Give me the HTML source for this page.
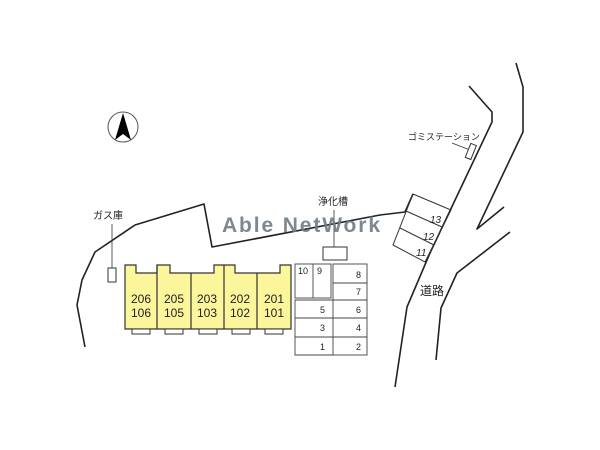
<!DOCTYPE html>
<html><head><meta charset="utf-8"><style>
html,body{margin:0;padding:0;background:#fff;}
svg{display:block;}
text{font-family:"Liberation Sans","Noto Sans CJK JP",sans-serif;}
</style></head><body>
<svg width="600" height="450" viewBox="0 0 600 450" xmlns="http://www.w3.org/2000/svg">
<rect width="600" height="450" fill="#fff"/>
<g fill="none" stroke="#222" stroke-width="1.6" stroke-linejoin="round">
<polyline points="85,347 77,305 82,280 95,252 135,225 204,204 212,247 380,215 405,212 413,194"/>
<polyline points="469,86 492,112 492,122 430,253 407,307 395,387"/>
<polyline points="516,63 523,87 523,132 477,229 504,207"/>
<polyline points="510,232 457,273 441,308 436,360"/>
</g>
<!-- parking 11-13 -->
<g fill="none" stroke="#333" stroke-width="1">
<polygon points="413,194 451,210 425,262 393,245"/>
<line x1="406" y1="211" x2="442" y2="227"/>
<line x1="400" y1="228" x2="434" y2="245"/>
</g>
<g font-size="10" fill="#222" font-style="italic">
<text x="430" y="223">13</text>
<text x="423" y="240">12</text>
<text x="416" y="256">11</text>
</g>
<!-- gomi -->
<text x="408" y="140" font-size="9" fill="#222">ゴミステーション</text>
<line x1="452" y1="143" x2="470" y2="150" stroke="#333" stroke-width="0.8"/>
<rect x="468" y="144" width="6" height="15" fill="#fff" stroke="#333" stroke-width="1" transform="rotate(22 471 151)"/>
<text x="420" y="295" font-size="12" fill="#222">道路</text>
<!-- compass -->
<circle cx="123" cy="127" r="15" fill="none" stroke="#555" stroke-width="1"/>
<polygon points="123,113 115,140 123,134 131,140" fill="#000"/>
<!-- gas -->
<text x="93" y="219" font-size="10" fill="#222">ガス庫</text>
<line x1="112" y1="224" x2="112" y2="268" stroke="#333" stroke-width="0.8"/>
<rect x="108" y="268" width="8" height="14" fill="#fff" stroke="#333" stroke-width="1"/>
<!-- jokaso -->
<text x="318" y="205" font-size="10" fill="#222">浄化槽</text>
<line x1="334" y1="210" x2="334" y2="254" stroke="#333" stroke-width="0.8"/>
<rect x="323" y="247" width="24" height="13" fill="#fff" stroke="#333" stroke-width="1"/>
<!-- watermark -->
<text x="222" y="232" font-size="21" font-weight="bold" fill="#6f7b86" fill-opacity="0.9" textLength="158" lengthAdjust="spacing">Able NetWork</text>
<!-- building -->
<g fill="#fbf59b" stroke="#333" stroke-width="1.2">
<polygon points="125,265 136,265 136,273 157,273 157,265 170,265 170,273 191,273 214,273 214,265 224,265 235,265 235,273 257,273 280,273 280,265 291,265 291,329 125,329"/>
<line x1="157" y1="265" x2="157" y2="329"/>
<line x1="191" y1="273" x2="191" y2="329"/>
<line x1="224" y1="265" x2="224" y2="329"/>
<line x1="257" y1="273" x2="257" y2="329"/>
</g>
<g fill="#fff" stroke="#333" stroke-width="1">
<rect x="132" y="329" width="18" height="5"/>
<rect x="165" y="329" width="18" height="5"/>
<rect x="199" y="329" width="18" height="5"/>
<rect x="232" y="329" width="18" height="5"/>
<rect x="265" y="329" width="18" height="5"/>
</g>
<g font-size="12" fill="#222" text-anchor="middle">
<text x="141" y="303">206</text><text x="141" y="317">106</text>
<text x="174" y="303">205</text><text x="174" y="317">105</text>
<text x="207" y="303">203</text><text x="207" y="317">103</text>
<text x="240" y="303">202</text><text x="240" y="317">102</text>
<text x="274" y="303">201</text><text x="274" y="317">101</text>
</g>
<!-- parking grid -->
<g fill="none" stroke="#444" stroke-width="0.9">
<rect x="295" y="264" width="36" height="34"/>
<line x1="313" y1="264" x2="313" y2="298"/>
<rect x="333" y="264" width="34" height="91"/>
<line x1="333" y1="283" x2="367" y2="283"/>
<line x1="333" y1="300" x2="367" y2="300"/>
<line x1="295" y1="318" x2="367" y2="318"/>
<line x1="295" y1="337" x2="367" y2="337"/>
<polyline points="333,300 295,300 295,355 333,355"/>
</g>
<g font-size="9" fill="#222">
<text x="298" y="274">10</text><text x="317" y="274">9</text>
<text x="356" y="278">8</text><text x="356" y="295">7</text>
<text x="320" y="313">5</text><text x="356" y="313">6</text>
<text x="320" y="331">3</text><text x="356" y="331">4</text>
<text x="320" y="350">1</text><text x="356" y="350">2</text>
</g>
</svg>
</body></html>
